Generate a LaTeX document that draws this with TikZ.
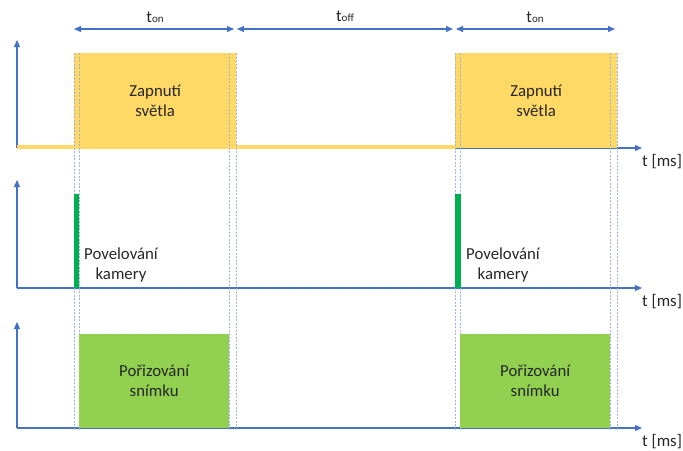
\documentclass[tikz,border=0pt]{standalone}
\usepackage{fontspec}
\setmainfont{Carlito}
\usetikzlibrary{arrows.meta}
\definecolor{axisblue}{HTML}{4472C4}
\definecolor{lightyel}{HTML}{FFD966}
\definecolor{darkgreen}{HTML}{00B050}
\definecolor{lightgreen}{HTML}{92D050}
\definecolor{guidecol}{HTML}{9DB3E0}
\definecolor{txt}{HTML}{262626}
\newcommand{\tsub}[1]{t\raisebox{-0.5pt}{\fontsize{11}{11}\selectfont #1}}
\begin{document}
\begin{tikzpicture}[x=1pt,y=-1pt,
  axis/.style={draw=axisblue, line width=1.3pt, -{Triangle[length=7pt,width=6pt]}},
  span/.style={draw=axisblue, line width=1.3pt, {Triangle[length=7pt,width=6pt]}-{Triangle[length=7pt,width=6pt]}},
  guide/.style={draw=guidecol, line width=0.8pt, dash pattern=on 2pt off 1.5pt},
  lbl/.style={font=\fontsize{16.8}{20}\selectfont, text=txt, align=center, inner sep=0pt},
  block/.style={lbl, anchor=north west, minimum height=95pt},
]
\useasboundingbox (0,0) rectangle (683,450);

% axis coordinates
\foreach \n/\y/\top in {a/148/40, b/288/180, c/428/322}{
  \coordinate (\n0) at (17,\y);
  \coordinate (\n top) at (17,\top);
  \coordinate (\n end) at (642,\y);
}
% axes
\draw[axis] (a0) -- (atop);
\draw[axis] (a0) -- (aend);
\draw[axis] (b0) -- (btop);
\draw[axis] (b0) -- (bend);
\draw[axis] (c0) -- (ctop);
\draw[axis] (c0) -- (cend);

% low light level
\coordinate (low0) at (17,147);
\coordinate (low1) at (455,147);
\draw[lightyel, line width=4pt] (low0) -- (low1);

% light on blocks
\node[block, fill=lightyel, minimum width=162pt] (on1) at (74,53) {Zapnutí\\světla};
\node[block, fill=lightyel, minimum width=162pt] (on2) at (455,53) {Zapnutí\\světla};

% guide lines
\foreach \x in {74,79,229,236,455,460,610,617}{
  \coordinate (g\x a) at (\x,53);
  \coordinate (g\x b) at (\x,431);
  \draw[guide] (g\x a) -- (g\x b);
}

% camera trigger bars
\node[anchor=north west, fill=darkgreen, inner sep=0pt, minimum width=5pt, minimum height=94pt] (cmd1) at (74,194) {};
\node[anchor=north west, fill=darkgreen, inner sep=0pt, minimum width=6pt, minimum height=94pt] (cmd2) at (455,194) {};
\node[lbl] (cmdl1) at (121,265) {Povelování\\kamery};
\node[lbl] (cmdl2) at (503,265) {Povelování\\kamery};

% capture blocks
\node[block, fill=lightgreen, minimum width=150pt, minimum height=94pt] (cap1) at (79,334) {Pořizování\\snímku};
\node[block, fill=lightgreen, minimum width=150pt, minimum height=94pt] (cap2) at (460,334) {Pořizování\\snímku};

% spans
\coordinate (s0) at (74,29);
\coordinate (s1) at (234,29);
\coordinate (s2) at (237,29);
\coordinate (s3) at (453,29);
\coordinate (s4) at (456,29);
\coordinate (s5) at (615,29);
\draw[span] (s0) -- (s1);
\draw[span] (s2) -- (s3);
\draw[span] (s4) -- (s5);
\node[lbl] (ton1) at (155,17) {\tsub{on}};
\node[lbl] (toff) at (345,16) {\tsub{off}};
\node[lbl] (ton2) at (535,17) {\tsub{on}};

% time labels
\node[lbl, anchor=west] (ta) at (642,162) {t [ms]};
\node[lbl, anchor=west] (tb) at (642,302) {t [ms]};
\node[lbl, anchor=west] (tc) at (642,442) {t [ms]};
\end{tikzpicture}
\end{document}
